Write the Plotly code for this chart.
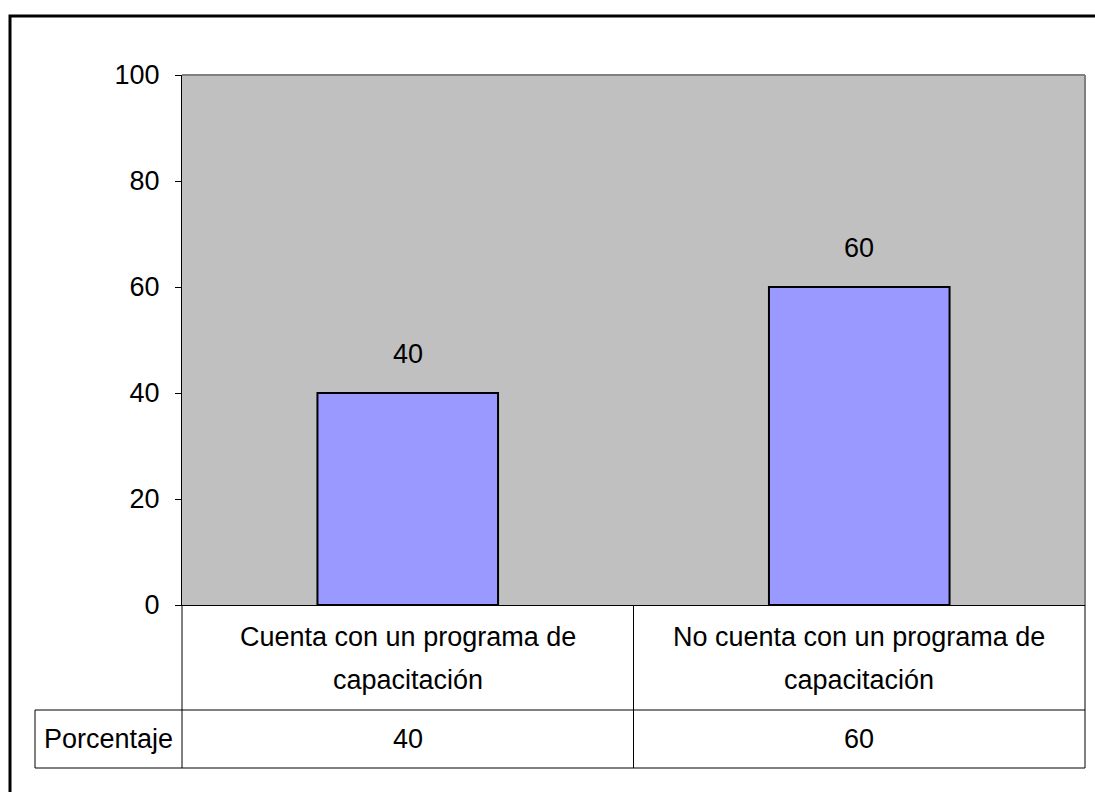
import plotly.graph_objects as go

categories = ["Cuenta con un programa de<br>capacitación", "No cuenta con un programa de<br>capacitación"]
values = [40, 60]
series_name = "Porcentaje"
y_ticks = [0, 20, 40, 60, 80, 100]

W, H = 1095, 792
FONT = "Liberation Sans, Arial, sans-serif"
FS = 27

def px(x):
    return x / W

def py(y):
    return 1 - y / H

x0p, x1p = 182, 1085
y_top, y_bot = 75, 605

fig = go.Figure()
fig.add_trace(go.Bar(
    x=[0, 1], y=values, width=0.4,
    marker=dict(color="#9999FF", line=dict(color="black", width=2)),
    hoverinfo="skip", showlegend=False,
))

fig.update_layout(
    width=W, height=H,
    margin=dict(l=0, r=0, t=0, b=0, autoexpand=False),
    paper_bgcolor="white",
    plot_bgcolor="#C0C0C0",
    font=dict(family=FONT, size=FS, color="black"),
    xaxis=dict(domain=[px(x0p), px(x1p)], range=[-0.5, 1.5], showticklabels=False,
               showgrid=False, zeroline=False, showline=True, linecolor="black", linewidth=1,
               ticks="", automargin=False),
    yaxis=dict(domain=[py(y_bot), py(y_top)], range=[0, 100], tickvals=y_ticks,
               showgrid=False, zeroline=False, showline=True, linecolor="black", linewidth=1,
               ticks="outside", ticklen=6, tickcolor="black", tickwidth=1,
               ticklabelstandoff=10, tickfont=dict(size=FS, family=FONT), automargin=False),
)

shapes = []
# plot area border (top/right gray)
shapes.append(dict(type="line", xref="paper", yref="paper", x0=px(x0p), x1=px(x1p), y0=py(y_top), y1=py(y_top),
                   line=dict(color="#808080", width=2)))
shapes.append(dict(type="line", xref="paper", yref="paper", x0=px(x1p), x1=px(x1p), y0=py(y_top), y1=py(y_bot),
                   line=dict(color="#808080", width=2)))
# data table
row1_bot = 710
row2_bot = 768
tbl_left = 35
mid = (x0p + x1p) / 2
for (xa, ya, xb, yb) in [
    (x0p, y_bot, x0p, row2_bot),
    (mid, y_bot, mid, row2_bot),
    (x1p, y_bot, x1p, row2_bot),
    (tbl_left, row1_bot, x1p, row1_bot),
    (tbl_left, row2_bot, x1p, row2_bot),
    (tbl_left, row1_bot, tbl_left, row2_bot),
]:
    shapes.append(dict(type="line", xref="paper", yref="paper", x0=px(xa), x1=px(xb), y0=py(ya), y1=py(yb),
                       line=dict(color="black", width=1)))
# outer frame
shapes.append(dict(type="rect", xref="paper", yref="paper", x0=px(10), x1=1.02, y0=-0.02, y1=py(16),
                   line=dict(color="black", width=3)))
fig.update_layout(shapes=shapes)

ann = []
line_y = [637, 680]
for i, (c, v) in enumerate(zip(categories, values)):
    ann.append(dict(x=i, y=v, xref="x", yref="y", text=str(v), showarrow=False,
                    xanchor="center", yanchor="bottom", yshift=22, font=dict(size=FS, family=FONT)))
    for part, ly in zip(c.split("<br>"), line_y):
        ann.append(dict(x=i, y=py(ly), xref="x", yref="paper", text=part, showarrow=False,
                        xanchor="center", yanchor="middle", font=dict(size=FS, family=FONT)))
    ann.append(dict(x=i, y=py((row1_bot + row2_bot) / 2), xref="x", yref="paper", text=str(v), showarrow=False,
                    xanchor="center", yanchor="middle", font=dict(size=FS, family=FONT)))
ann.append(dict(x=px((tbl_left + x0p) / 2), y=py((row1_bot + row2_bot) / 2), xref="paper", yref="paper",
                text=series_name, showarrow=False, xanchor="center", yanchor="middle",
                font=dict(size=FS, family=FONT)))
fig.update_layout(annotations=ann)

fig.write_html("out.html", config={"displayModeBar": False},
               post_script="document.body.style.margin='0';document.body.style.overflow='hidden';")
